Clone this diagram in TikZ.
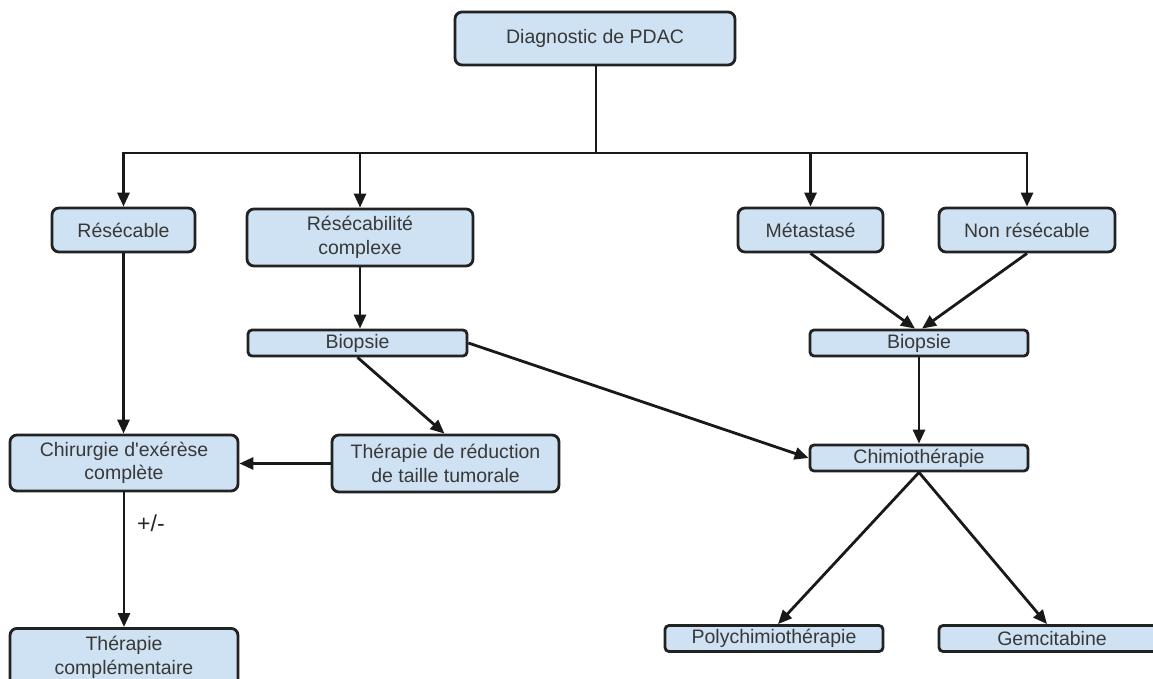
\documentclass[tikz,border=0pt]{standalone}
\usepackage{fontspec}
\setmainfont{Liberation Sans}
\newfontfamily\arialfont{Liberation Sans}
\usetikzlibrary{arrows.meta}
\definecolor{boxfill}{HTML}{CFE2F3}
\definecolor{boxdraw}{HTML}{222222}
\definecolor{txt}{HTML}{383838}
\begin{document}
\begin{tikzpicture}[x=1pt,y=-1pt,
  box/.style={draw=boxdraw,fill=boxfill,line width=2.8pt,rounded corners=7pt,
    inner sep=0pt,align=center,text=txt,font=\arialfont\fontsize{19.5}{23.5}\selectfont},
  conn/.style={draw=black!90,line width=2.8pt},
  arr/.style={conn,-{Triangle[length=14pt,width=12pt]}}]
\useasboundingbox (0,0) rectangle (1153,679);
\fill[white] (0,0) rectangle (1153,679);
% nodes
\node[box,minimum width=280pt,minimum height=53pt] (diag) at (595,38.5) {Diagnostic de PDAC};
\node[box,minimum width=143pt,minimum height=44pt] (res) at (123.5,230) {Résécable};
\node[box,minimum width=226pt,minimum height=57pt] (rescomp) at (360,237.5) {Résécabilité\\complexe};
\node[box,minimum width=145pt,minimum height=44pt] (meta) at (810.5,230) {Métastasé};
\node[box,minimum width=176pt,minimum height=44pt] (nonres) at (1027,230) {Non résécable};
\node[box,minimum width=219pt,minimum height=26pt,rounded corners=4pt] (bioa) at (357.5,343) {Biopsie};
\node[box,minimum width=218pt,minimum height=26pt,rounded corners=4pt] (biob) at (919,343) {Biopsie};
\node[box,minimum width=228pt,minimum height=56pt] (chir) at (124,463) {Chirurgie d'exérèse\\complète};
\node[box,minimum width=227pt,minimum height=57pt] (red) at (445.5,463.5) {Thérapie de réduction\\de taille tumorale};
\node[box,minimum width=218pt,minimum height=26pt,rounded corners=4pt] (chimio) at (919,458) {Chimiothérapie};
\node[box,minimum width=218pt,minimum height=26pt,rounded corners=4pt] (poly) at (774,638.5) {Polychimiothérapie};
\node[box,minimum width=226pt,minimum height=26pt,rounded corners=4pt] (gem) at (1052,638.5) {Gemcitabine};
\node[box,minimum width=228pt,minimum height=58pt,anchor=north] (comp) at (124,627) {Thérapie\\complémentaire};
\node[anchor=west,inner sep=0pt,font=\arialfont\fontsize{23}{26}\selectfont,text=black!85] (pm) at (137,523) {+/-};
% connectors
\coordinate (bar) at (596,153);
\draw[conn] (diag.south -| bar) -- (bar);
\draw[conn,line cap=rect] (res.north |- bar) -- (nonres.north |- bar);
\draw[arr] (res.north |- bar) -- (res.north);
\draw[arr] (rescomp.north |- bar) -- (rescomp.north);
\draw[arr] (meta.north |- bar) -- (meta.north);
\draw[arr] (nonres.north |- bar) -- (nonres.north);
\draw[arr] (rescomp.south) -- (rescomp.south |- bioa.north);
\draw[arr] (meta.south) -- ([xshift=-4pt]biob.north);
\draw[arr] (nonres.south) -- ([xshift=3pt]biob.north);
\draw[arr] (res.south) -- (res.south |- chir.north);
\draw[arr] (bioa.south) -- ([xshift=-1pt]red.north);
\draw[arr] (bioa.east) -- (chimio.west);
\draw[arr] (red.west) -- (red.west -| chir.east);
\draw[arr] (biob.south) -- (chimio.north);
\draw[arr] (chimio.south) -- ([xshift=4pt]poly.north);
\draw[arr] (chimio.south) -- ([xshift=-5pt]gem.north);
\draw[arr] (chir.south) -- (comp.north);
\end{tikzpicture}
\end{document}
